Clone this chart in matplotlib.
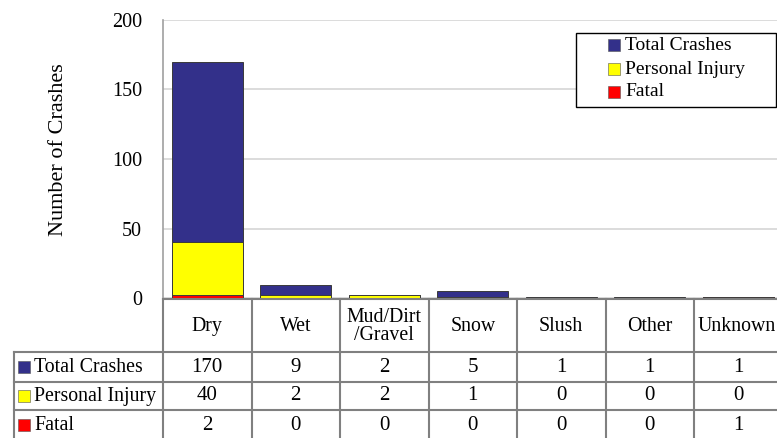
import numpy as np
import matplotlib.pyplot as plt
from matplotlib.patches import Rectangle

plt.rcParams['font.family'] = ['Liberation Serif', 'DejaVu Serif']

categories = ['Dry', 'Wet', 'Mud/Dirt\n/Gravel', 'Snow', 'Slush', 'Other', 'Unknown']
total_crashes = [170, 9, 2, 5, 1, 1, 1]
personal_injury = [40, 2, 2, 1, 0, 0, 0]
fatal = [2, 0, 0, 0, 0, 0, 1]
series_names = ['Total Crashes', 'Personal Injury', 'Fatal']
colors = ['#33308A', '#FFFF00', '#FF0000']

W, H = 777, 438
fig = plt.figure(figsize=(W / 100, H / 100), dpi=100)

col_w = 88.5
x0 = 163
n = len(categories)
ax = fig.add_axes([x0 / W, 1 - 298 / H, n * col_w / W, 278 / H])

x = np.arange(n)
for vals, c in zip([total_crashes, personal_injury, fatal], colors):
    ax.bar(x, vals, width=0.8, color=c, edgecolor='#3a3a3a', linewidth=0.7, zorder=3)

ax.set_xlim(-0.5, n - 0.5)
ax.set_ylim(0, 200)
ax.set_yticks([0, 50, 100, 150, 200])
ax.yaxis.grid(True, color='#d6d6d6', linewidth=1.2, zorder=0)
ax.tick_params(axis='y', length=0, pad=15, labelsize=14.5)
ax.set_xticks([])
for s in ['top', 'right', 'bottom']:
    ax.spines[s].set_visible(False)
ax.spines['left'].set_color('#a0a0a0')
ax.spines['left'].set_linewidth(1.2)
ax.set_ylabel('Number of Crashes', fontsize=16)
ax.yaxis.set_label_coords(-0.154, 0.535)

# overlay in pixel coordinates for legend box and data table
tax = fig.add_axes([0, 0, 1, 1])
tax.set_xlim(0, W)
tax.set_ylim(H, 0)
tax.axis('off')

# legend
tax.add_patch(Rectangle((576, 33), 200, 74, facecolor='white', edgecolor='black', lw=1.0, zorder=5))
leg_y = [45, 69, 92]
for name, c, yy in zip(series_names, colors, leg_y):
    tax.scatter([614], [yy], marker='s', s=80, color=c, edgecolors='#555555', linewidths=0.4, zorder=6)
    tax.text(625, yy, name, ha='left', va='center', fontsize=14, zorder=6)

lc = '#808080'
lw = 1.5
rows_y = [299, 352, 382, 410, 440]
left = 14
right = x0 + n * col_w
bounds = [x0 + i * col_w for i in range(n + 1)]

# horizontal lines
tax.plot([x0, right], [rows_y[0], rows_y[0]], color=lc, lw=lw)
for yy in rows_y[1:]:
    tax.plot([left, right], [yy, yy], color=lc, lw=lw)
# vertical lines
for b in bounds:
    tax.plot([b, b], [rows_y[0], H], color=lc, lw=lw)
tax.plot([left, left], [rows_y[1], H], color=lc, lw=lw)

for i, cat in enumerate(categories):
    cx = min((bounds[i] + bounds[i + 1]) / 2, 737)
    tax.text(cx, (rows_y[0] + rows_y[1]) / 2 + 1, cat, ha='center', va='center',
             fontsize=14.3, linespacing=1.0)

table_rows = [total_crashes, personal_injury, fatal]
for r, (name, vals, c) in enumerate(zip(series_names, table_rows, colors)):
    cy = (rows_y[r + 1] + rows_y[r + 2]) / 2
    tax.scatter([24], [cy], marker='s', s=75, color=c, edgecolors='#555555', linewidths=0.4)
    tax.text(34, cy, name, ha='left', va='center', fontsize=14.3)
    for i, v in enumerate(vals):
        cx = (bounds[i] + bounds[i + 1]) / 2
        tax.text(cx, cy, str(v), ha='center', va='center', fontsize=15)

fig.savefig('out.png', dpi=100)
